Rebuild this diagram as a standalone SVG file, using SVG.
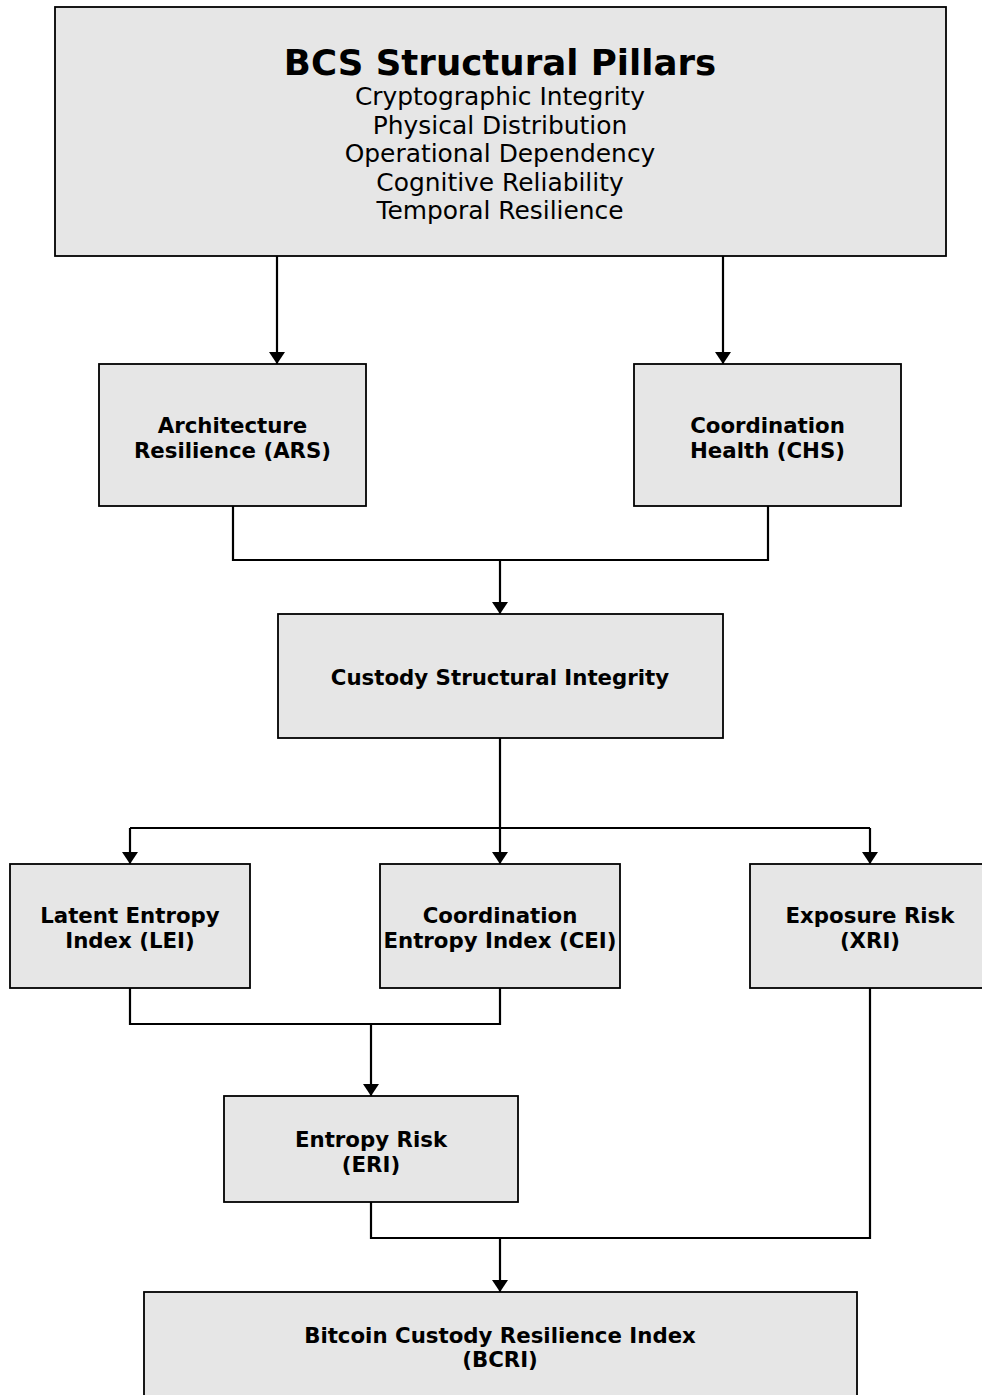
<svg xmlns="http://www.w3.org/2000/svg" width="982" height="1395" viewBox="0 0 982 1395">
<style>
.box{fill:#e6e6e6;stroke:#000;stroke-width:1.8}
.t{font-family:"DejaVu Sans",sans-serif;font-weight:bold;font-size:21.3px;text-anchor:middle;fill:#000}
.title{font-family:"DejaVu Sans",sans-serif;font-weight:bold;font-size:35.6px;text-anchor:middle;fill:#000}
.sub{font-family:"DejaVu Sans",sans-serif;font-size:24.9px;text-anchor:middle;fill:#000}
.c{fill:none;stroke:#000;stroke-width:2.2}
</style>
<defs>
<marker id="ah" viewBox="0 0 12 16" refX="12" refY="8" markerWidth="12" markerHeight="16" markerUnits="userSpaceOnUse" orient="auto">
<path d="M0,0 L12,8 L0,16 z" fill="#000"/>
</marker>
</defs>
<rect width="982" height="1395" fill="#fff"/>
<g id="connectors">
<path class="c" d="M277,256 V364" marker-end="url(#ah)"/>
<path class="c" d="M723,256 V364" marker-end="url(#ah)"/>
<path class="c" d="M233,506 V560 H768 V506"/>
<path class="c" d="M500,560 V614" marker-end="url(#ah)"/>
<path class="c" d="M500,738 V864" marker-end="url(#ah)"/>
<path class="c" d="M130,828 H870"/>
<path class="c" d="M130,828 V864" marker-end="url(#ah)"/>
<path class="c" d="M870,828 V864" marker-end="url(#ah)"/>
<path class="c" d="M130,988 V1024 H500 V988"/>
<path class="c" d="M371,1024 V1096" marker-end="url(#ah)"/>
<path class="c" d="M371,1202 V1238 H870 V988"/>
<path class="c" d="M500,1238 V1292" marker-end="url(#ah)"/>
</g>
<g id="pillars">
<rect class="box" x="55" y="7" width="891" height="249"/>
<text class="title" x="500" y="75">BCS Structural Pillars</text>
<text class="sub" x="500" y="105">Cryptographic Integrity</text>
<text class="sub" x="500" y="133.5">Physical Distribution</text>
<text class="sub" x="500" y="162">Operational Dependency</text>
<text class="sub" x="500" y="190.5">Cognitive Reliability</text>
<text class="sub" x="500" y="219">Temporal Resilience</text>
</g>
<g id="ars">
<rect class="box" x="99" y="364" width="267" height="142"/>
<text class="t" x="232.5" y="433">Architecture</text>
<text class="t" x="232.5" y="458">Resilience (ARS)</text>
</g>
<g id="chs">
<rect class="box" x="634" y="364" width="267" height="142"/>
<text class="t" x="767.5" y="433">Coordination</text>
<text class="t" x="767.5" y="458">Health (CHS)</text>
</g>
<g id="csi">
<rect class="box" x="278" y="614" width="445" height="124"/>
<text class="t" x="500" y="685">Custody Structural Integrity</text>
</g>
<g id="lei">
<rect class="box" x="10" y="864" width="240" height="124"/>
<text class="t" x="130" y="923">Latent Entropy</text>
<text class="t" x="130" y="948">Index (LEI)</text>
</g>
<g id="cei">
<rect class="box" x="380" y="864" width="240" height="124"/>
<text class="t" x="500" y="923">Coordination</text>
<text class="t" x="500" y="948">Entropy Index (CEI)</text>
</g>
<g id="xri">
<rect class="box" x="750" y="864" width="240" height="124"/>
<text class="t" x="870" y="923">Exposure Risk</text>
<text class="t" x="870" y="948">(XRI)</text>
</g>
<g id="eri">
<rect class="box" x="224" y="1096" width="294" height="106"/>
<text class="t" x="371" y="1147">Entropy Risk</text>
<text class="t" x="371" y="1172">(ERI)</text>
</g>
<g id="bcri">
<rect class="box" x="144" y="1292" width="713" height="120"/>
<text class="t" x="500" y="1343">Bitcoin Custody Resilience Index</text>
<text class="t" x="500" y="1367">(BCRI)</text>
</g>
</svg>
